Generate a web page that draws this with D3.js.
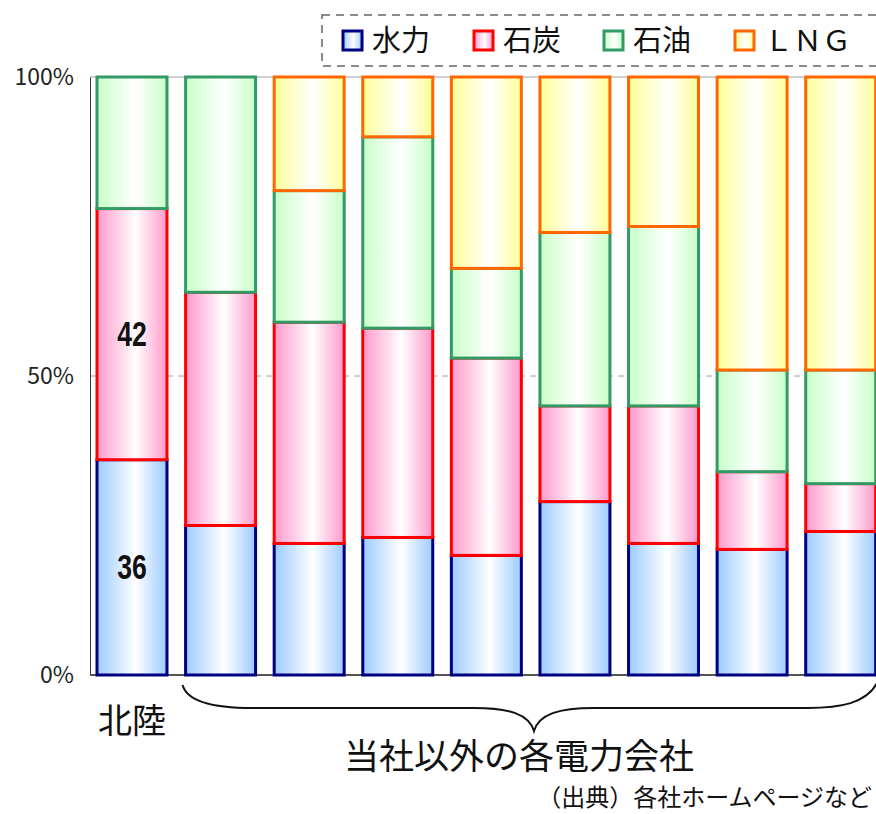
<!DOCTYPE html>
<html>
<head>
<meta charset="utf-8">
<script src="https://cdn.jsdelivr.net/npm/d3@7"></script>
<style>
  body { margin: 0; background: #fff; }
  svg { display: block; }
  text { font-family: "Noto Sans CJK JP", "Noto Sans", sans-serif; }
</style>
</head>
<body>
<div id="chart"></div>
<script>
// companies: first is 北陸, others are the other power companies
var companies = ["北陸", "他社1", "他社2", "他社3", "他社4", "他社5", "他社6", "他社7", "他社8"];
var seriesNames = ["水力", "石炭", "石油", "ＬＮＧ"];
var hydro = [36, 25, 22, 23, 20, 29, 22, 21, 24];
var coal = [42, 39, 37, 35, 33, 16, 23, 13, 8];
var oil = [22, 36, 22, 32, 15, 29, 30, 17, 19];
var lng = [0, 0, 19, 10, 32, 26, 25, 49, 49];
var yTicks = [0, 50, 100];

var width = 876, height = 814;
var fills = ["#9ccbff", "#ff99cc", "#c8ffc8", "#ffff99"];
var strokes = ["#000080", "#ff0000", "#339966", "#ff6600"];

var rows = companies.map(function(c, i) {
    return { name: c, "水力": hydro[i], "石炭": coal[i], "石油": oil[i], "ＬＮＧ": lng[i] };
});
var stacked = d3.stack().keys(seriesNames)(rows);

var svg = d3.select("#chart").append("svg").attr("width", width).attr("height", height);

// gradients: colour at edges, white in the middle
var defs = svg.append("defs");
fills.forEach(function(c, i) {
    var g = defs.append("linearGradient").attr("id", "grad" + i)
        .attr("x1", "0%").attr("x2", "100%").attr("y1", "0%").attr("y2", "0%");
    g.append("stop").attr("offset", "0%").attr("stop-color", c);
    g.append("stop").attr("offset", "55%").attr("stop-color", "#ffffff");
    g.append("stop").attr("offset", "100%").attr("stop-color", c);
});

var x = d3.scaleBand().domain(companies).range([87.7, 885]).paddingInner(0.21).paddingOuter(0.105);
var y = d3.scaleLinear().domain([0, 100]).range([675, 77]);
var axisX = 90;

// gridlines
svg.append("g").selectAll("line").data(yTicks.filter(function(t) { return t > 0; })).enter()
    .append("line")
    .attr("x1", axisX).attr("x2", width)
    .attr("y1", function(d) { return y(d); }).attr("y2", function(d) { return y(d); })
    .attr("stroke", "#a0a0a0").attr("stroke-width", 1)
    .attr("stroke-dasharray", function(d) { return d === 100 ? null : "6,5"; });

// y axis
var yAxis = svg.append("g").attr("transform", "translate(" + axisX + ",0)")
    .call(d3.axisLeft(y).tickValues(yTicks).tickSize(0).tickPadding(16).tickFormat(function(d) { return d + "%"; }));
yAxis.select(".domain").attr("stroke", "#333");
yAxis.selectAll("text").attr("font-size", 23).attr("fill", "#222")
    .style("font-family", "'Noto Sans CJK JP', sans-serif");

// bottom axis line
svg.append("line").attr("x1", axisX).attr("x2", width).attr("y1", y(0)).attr("y2", y(0))
    .attr("stroke", "#555").attr("stroke-width", 2);

// bars
var layers = svg.append("g").selectAll("g").data(stacked).enter().append("g")
    .attr("fill", function(d, i) { return "url(#grad" + i + ")"; })
    .attr("stroke", function(d, i) { return strokes[i]; });

layers.selectAll("rect").data(function(d) { return d.filter(function(s) { return s[1] - s[0] > 0; }); })
    .enter().append("rect")
    .attr("x", function(d) { return x(d.data.name); })
    .attr("width", x.bandwidth())
    .attr("y", function(d) { return y(d[1]); })
    .attr("height", function(d) { return y(d[0]) - y(d[1]); })
    .attr("stroke-width", 3);

// value labels for 北陸 (condensed look)
[0, 1].forEach(function(k) {
    var seg = stacked[k][0];
    var cx = x(companies[0]) + x.bandwidth() / 2, cy = y((seg[0] + seg[1]) / 2);
    svg.append("text")
        .attr("transform", "translate(" + cx + "," + cy + ") scale(0.76,1)")
        .attr("text-anchor", "middle").attr("dominant-baseline", "central")
        .attr("font-size", 35).attr("font-weight", "bold").attr("fill", "#111")
        .style("font-family", "'Liberation Sans', Arial, sans-serif")
        .text(seg[1] - seg[0]);
});

// legend
var legend = svg.append("g");
legend.append("rect").attr("x", 322).attr("y", 15).attr("width", 560).attr("height", 51)
    .attr("fill", "none").attr("stroke", "#666").attr("stroke-width", 1.5).attr("stroke-dasharray", "8,6");
var legendX = [343, 474, 604, 735];
seriesNames.forEach(function(n, i) {
    legend.append("rect").attr("x", legendX[i]).attr("y", 31).attr("width", 19).attr("height", 19)
        .attr("fill", "url(#grad" + i + ")").attr("stroke", strokes[i]).attr("stroke-width", 3);
    legend.append("text").attr("x", legendX[i] + 29).attr("y", 51)
        .attr("font-size", 29).attr("fill", "#111")
        .text(n);
});

// category label
svg.append("text").attr("x", x(companies[0]) + x.bandwidth() / 2).attr("y", 733)
    .attr("text-anchor", "middle").attr("font-size", 34).attr("fill", "#111").text(companies[0]);

// brace for the other companies
var bx0 = x(companies[1]) - 3, bx1 = 878, tipX = 534, bTop = 685, bMid = 708, bBot = 731;
var brace = "M" + bx0 + "," + bTop +
    " C" + (bx0 + 5) + "," + (bMid - 4) + " " + (bx0 + 40) + "," + bMid + " " + (bx0 + 70) + "," + bMid +
    " L" + (tipX - 60) + "," + bMid +
    " C" + (tipX - 25) + "," + bMid + " " + (tipX - 5) + "," + (bMid + 6) + " " + tipX + "," + bBot +
    " C" + (tipX + 5) + "," + (bMid + 6) + " " + (tipX + 25) + "," + bMid + " " + (tipX + 60) + "," + bMid +
    " L" + (bx1 - 70) + "," + bMid +
    " C" + (bx1 - 40) + "," + bMid + " " + (bx1 - 10) + "," + (bMid - 4) + " " + bx1 + "," + (bTop - 4);
svg.append("path").attr("d", brace).attr("fill", "none").attr("stroke", "#111").attr("stroke-width", 2);

svg.append("text").attr("x", 519).attr("y", 769).attr("text-anchor", "middle")
    .attr("font-size", 35).attr("fill", "#111").text("当社以外の各電力会社");
svg.append("text").attr("x", 872).attr("y", 806).attr("text-anchor", "end")
    .attr("font-size", 24).attr("fill", "#111").text("（出典）各社ホームページなど");
</script>
</body>
</html>
